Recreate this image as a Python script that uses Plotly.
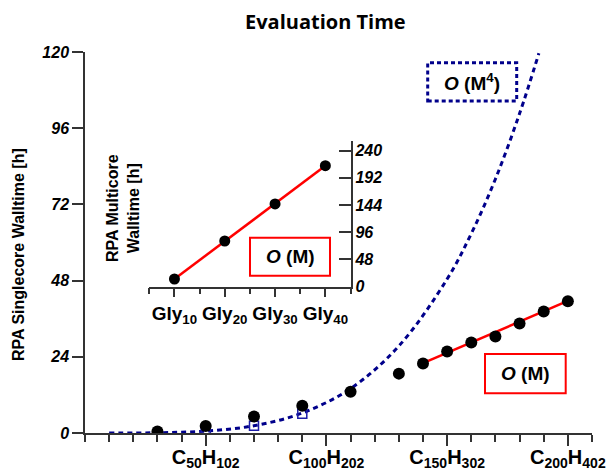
import plotly.graph_objects as go

# ---------------- data ----------------
carbons = [30, 50, 70, 90, 110, 130, 140, 150, 160, 170, 180, 190, 200]
singlecore_h = [0.5, 2.2, 5.2, 8.6, 13.0, 18.7, 21.9, 25.7, 28.5, 30.4, 34.5, 38.3, 41.5]

square_n = [50, 70, 90]
square_h = [0.8, 2.3, 6.1]

m4_curve_n = [10, 30, 50, 70, 90, 110, 130, 150, 160, 170, 180, 188]
m4_curve_h = [0.0, 0.08, 0.6, 2.3, 6.3, 14.0, 27.4, 48.5, 62.8, 80.0, 100.6, 119.6]

m_fit_n = [140, 200]
m_fit_h = [22.0, 41.6]

gly = [10, 20, 30, 40]
multicore_h = [13.6, 80.6, 146.0, 213.5]
gly_fit = [10, 40]
multicore_fit = [13.6, 213.2]

main_xticks = [0, 50, 100, 150, 200]
main_xlabels = ["", "C<sub>50</sub>H<sub>102</sub>", "C<sub>100</sub>H<sub>202</sub>",
                "C<sub>150</sub>H<sub>302</sub>", "C<sub>200</sub>H<sub>402</sub>"]
main_yticks = [0, 24, 48, 72, 96, 120]
inset_xticks = [10, 20, 30, 40]
inset_xlabels = ["Gly<sub>10</sub>", "Gly<sub>20</sub>", "Gly<sub>30</sub>", "Gly<sub>40</sub>"]
inset_yticks = [0, 48, 96, 144, 192, 240]

# ---------------- styles ----------------
AX = "#333333"
NAVY = "#00008b"
RED = "#ff0000"
FONT = "Liberation Sans"
tickfont_bi = dict(family=FONT, size=16, color="black", weight="bold", style="italic")

fig = go.Figure()

fig.add_trace(go.Scatter(x=m4_curve_n, y=m4_curve_h, mode="lines", line_shape="spline",
                         line=dict(color=NAVY, width=3, dash="5px,4px"),
                         xaxis="x", yaxis="y", showlegend=False, cliponaxis=True))
fig.add_trace(go.Scatter(x=square_n, y=square_h, mode="markers",
                         marker=dict(symbol="square-open", size=9, color="#1c1ca8",
                                     line=dict(width=1.5, color="#1c1ca8")),
                         xaxis="x", yaxis="y", showlegend=False))
fig.add_trace(go.Scatter(x=m_fit_n, y=m_fit_h, mode="lines",
                         line=dict(color=RED, width=2.5),
                         xaxis="x", yaxis="y", showlegend=False))
fig.add_trace(go.Scatter(x=carbons, y=singlecore_h, mode="markers",
                         marker=dict(symbol="circle", size=12, color="black"),
                         xaxis="x", yaxis="y", showlegend=False))

# inset
fig.add_trace(go.Scatter(x=gly_fit, y=multicore_fit, mode="lines",
                         line=dict(color=RED, width=2.5),
                         xaxis="x2", yaxis="y2", showlegend=False))
fig.add_trace(go.Scatter(x=gly, y=multicore_h, mode="markers",
                         marker=dict(symbol="circle", size=11, color="black"),
                         xaxis="x2", yaxis="y2", showlegend=False))

X0, X1 = 85, 592
Y0, Y1 = 433, 52


def px(xp):
    return (xp - X0) / (X1 - X0)


def py(yp):
    return (Y0 - yp) / (Y0 - Y1)


common = dict(showgrid=False, zeroline=False, automargin=False,
              showline=True, linecolor=AX, linewidth=1.5, tickwidth=1.5, tickcolor=AX)

fig.update_layout(
    width=615, height=472,
    margin=dict(l=X0, r=615 - X1, t=Y1, b=472 - Y0, autoexpand=False),
    paper_bgcolor="white", plot_bgcolor="rgba(0,0,0,0)",
    showlegend=False,
    xaxis=dict(domain=[0, 1], range=[0, 210], anchor="y",
               tickmode="array", tickvals=main_xticks, ticktext=main_xlabels,
               ticks="outside", ticklen=11, ticklabelstandoff=-6,
               minor=dict(tickmode="array", tickvals=list(range(0, 211, 10)),
                          ticks="outside", ticklen=7, tickwidth=1.5, tickcolor=AX),
               tickfont=dict(family=FONT, size=20, color="black", weight="bold"), **common),
    yaxis=dict(domain=[0, 1], range=[0, 120], anchor="x",
               tickmode="array", tickvals=main_yticks,
               ticks="outside", ticklen=11,
               tickfont=tickfont_bi, **common),
    yaxis3=dict(overlaying="y", side="right", anchor="x", range=[0, 120],
                tickmode="array", tickvals=main_yticks, showticklabels=False,
                ticks="inside", ticklen=12, **common),
    xaxis2=dict(domain=[px(149.3), px(350.5)], range=[5, 45], anchor="y2",
                tickmode="array", tickvals=inset_xticks, ticktext=inset_xlabels,
                ticks="outside", ticklen=9,
                minor=dict(tickmode="array", tickvals=[5, 15, 25, 35, 45],
                           ticks="outside", ticklen=6, tickwidth=1.5, tickcolor=AX),
                tickfont=dict(family=FONT, size=19, color="black", weight="bold"), **common),
    yaxis2=dict(domain=[py(286.7), py(141)], range=[0, 257], anchor="x2", side="right",
                tickmode="array", tickvals=inset_yticks,
                ticks="inside", ticklen=12,
                tickfont=tickfont_bi, **common),
    yaxis4=dict(overlaying="y2", side="left", anchor="x2", range=[0, 257],
                tickmode="array", tickvals=inset_yticks, showticklabels=False,
                ticks="inside", ticklen=12, **common),
)

# legend-like boxes
fig.add_shape(type="rect", xref="paper", yref="paper",
              x0=px(427.7), x1=px(516.7), y0=py(101), y1=py(62.7),
              line=dict(color=NAVY, width=3, dash="4px,3px"), fillcolor="white")
fig.add_shape(type="rect", xref="paper", yref="paper",
              x0=px(485), x1=px(565.7), y0=py(393.3), y1=py(354),
              line=dict(color=RED, width=2), fillcolor="white")
fig.add_shape(type="rect", xref="paper", yref="paper",
              x0=px(250), x1=px(330), y0=py(275.7), y1=py(237.7),
              line=dict(color=RED, width=2), fillcolor="white")

lab_font = dict(family=FONT, size=19, color="black", weight="bold")
ann = dict(xref="paper", yref="paper", showarrow=False, xanchor="center", yanchor="middle")
fig.add_annotation(x=px(472), y=py(82), text="<i>O</i> (M<sup>4</sup>)", font=lab_font, **ann)
fig.add_annotation(x=px(525.3), y=py(373.7), text="<i>O</i> (M)", font=lab_font, **ann)
fig.add_annotation(x=px(290), y=py(256.7), text="<i>O</i> (M)", font=lab_font, **ann)

# main y title
fig.add_annotation(x=px(18), y=py(255), textangle=-90, text="RPA Singlecore Walltime [h]",
                   font=dict(family=FONT, size=16, color="black", weight="bold"), **ann)

# inset y title
fig.add_annotation(x=px(123), y=py(208), textangle=-90, text="RPA Multicore<br>Walltime [h]",
                   font=dict(family=FONT, size=16, color="black", weight="bold"), **ann)

# title
fig.add_annotation(x=px(325), y=py(22), text="Evaluation Time",
                   font=dict(family="Open Sans", size=20, color="black", weight="bold"), **ann)

fig.write_html("out.html")
